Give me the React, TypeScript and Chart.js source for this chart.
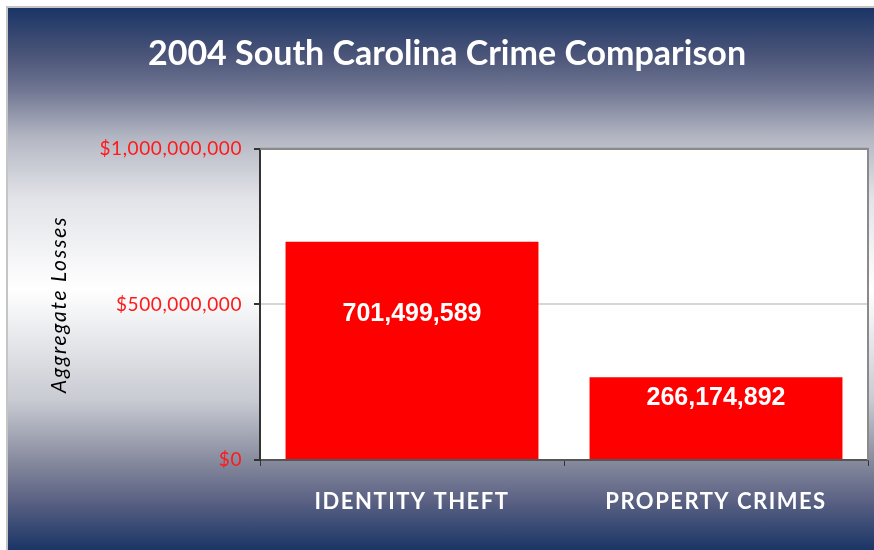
import React, { useEffect, useRef } from "react";
import { Chart, registerables } from "chart.js";

Chart.register(...registerables);

const categories = ["IDENTITY THEFT", "PROPERTY CRIMES"];
const losses = [701499589, 266174892];
const yTicks = [0, 500000000, 1000000000];
const titleText = "2004 South Carolina Crime Comparison";
const yTitle = "Aggregate Losses";
// label vertical offsets from bar top (px), layout only
const labelOffsets = [72, 21];

const fmt = (v: number) => v.toLocaleString("en-US");

export default function App() {
  const ref = useRef<HTMLCanvasElement | null>(null);

  useEffect(() => {
    if (!ref.current) return;
    const plotBg = {
      id: "plotBg",
      beforeDraw(chart: any) {
        const { ctx, chartArea: a } = chart;
        ctx.save();
        ctx.fillStyle = "#ffffff";
        ctx.fillRect(a.left, a.top, a.right - a.left, a.bottom - a.top);
        ctx.restore();
        const wrap = (scale: any, name: string, sp: string) => {
          if (!scale || scale["__w_" + name]) return;
          const orig = scale[name].bind(scale);
          scale[name] = (...args: any[]) => {
            const c: any = chart.ctx;
            c.save();
            c.letterSpacing = sp;
            orig(...args);
            c.restore();
          };
          scale["__w_" + name] = true;
        };
        wrap(chart.scales.x, "drawLabels", "1.5px");
        wrap(chart.scales.y, "drawLabels", "0.6px");
        wrap(chart.scales.y, "drawTitle", "1.8px");
      },
      afterDraw(chart: any) {
        const { ctx, chartArea: a } = chart;
        ctx.save();
        ctx.strokeStyle = "#8a8a8a";
        ctx.lineWidth = 2;
        ctx.beginPath();
        ctx.moveTo(a.left, a.top);
        ctx.lineTo(a.right, a.top);
        ctx.lineTo(a.right, a.bottom);
        ctx.stroke();
        ctx.restore();
      },
    };
    const valueLabels = {
      id: "valueLabels",
      afterDatasetsDraw(chart: any) {
        const { ctx } = chart;
        const meta = chart.getDatasetMeta(0);
        ctx.save();
        ctx.fillStyle = "#ffffff";
        ctx.font = "bold 25px 'Liberation Sans', Arial, sans-serif";
        ctx.textAlign = "center";
        ctx.textBaseline = "middle";
        meta.data.forEach((bar: any, i: number) => {
          ctx.fillText(fmt(losses[i]), bar.x, bar.y + labelOffsets[i]);
        });
        ctx.restore();
      },
    };

    const chart = new Chart(ref.current, {
      type: "bar",
      data: {
        labels: categories,
        datasets: [
          {
            data: losses,
            backgroundColor: "#ff0000",
            borderWidth: 0,
            barPercentage: 1,
            categoryPercentage: 0.832,
          },
        ],
      },
      options: {
        animation: false,
        responsive: false,
        maintainAspectRatio: false,
        layout: { padding: { top: 0, left: 26, right: 6, bottom: 0 } },
        plugins: {
          legend: { display: false },
          tooltip: { enabled: false },
          title: {
            display: true,
            text: titleText,
            color: "#ffffff",
            font: { family: "Lato", weight: "bold", size: 34 },
            padding: { top: 34, bottom: 74 },
          },
        },
        scales: {
          x: {
            grid: {
              drawOnChartArea: false,
              drawTicks: true,
              tickLength: 6,
              tickColor: "#333333",
              offset: true,
            },
            border: { color: "#555555", width: 2 },
            ticks: {
              color: "#ffffff",
              font: { family: "Lato", weight: "bold", size: 22 },
              padding: 23,
            },
            afterFit: (s: any) => {
              s.height = 90;
            },
          },
          y: {
            min: 0,
            max: 1000000000,
            afterBuildTicks: (s: any) => {
              s.ticks = yTicks.map((v) => ({ value: v }));
            },
            ticks: {
              color: "#ff1a1a",
              font: { family: "Lato", size: 19 },
              padding: 12,
              callback: (v: any) => "$" + fmt(Number(v)),
            },
            grid: {
              color: (c: any) =>
                c.tick && c.tick.value === 500000000
                  ? "#d6d6d6"
                  : c.tick && c.tick.value === 1000000000
                  ? "#8a8a8a"
                  : "rgba(0,0,0,0)",
              lineWidth: 2,
              tickLength: 6,
              tickColor: "#333333",
            },
            border: { color: "#333333", width: 2 },
            title: {
              display: true,
              text: yTitle,
              color: "#000000",
              font: { family: "Lato", style: "italic", size: 21 },
              padding: { top: 21, bottom: 0 },
            },
            afterFit: (s: any) => {
              s.width = 234;
            },
          },
        },
      },
      plugins: [plotBg, valueLabels],
    });
    return () => chart.destroy();
  }, []);

  return (
    <div style={{ position: "absolute", left: 0, top: 0, width: 874, height: 550, background: "#ffffff", overflow: "hidden" }}>
      <div
        style={{
          position: "absolute",
          left: 6,
          top: 6,
          width: 868,
          height: 544,
          boxSizing: "border-box",
          borderLeft: "2px solid #c4c4c4",
          borderTop: "2px solid #c4c4c4",
          background:
            "linear-gradient(to bottom, #1a3566 0%, #4a5478 8.5%, #6f7592 15%, #b4b7c3 24%, #e2e3e8 35%, #ffffff 52%, #c8cad2 72.5%, #8a8ea0 83%, #5a6183 91%, #1a3566 100%)",
        }}
      />
      <canvas ref={ref} width={874} height={550} style={{ position: "absolute", left: 0, top: 0, width: 874, height: 550 }} />
    </div>
  );
}
